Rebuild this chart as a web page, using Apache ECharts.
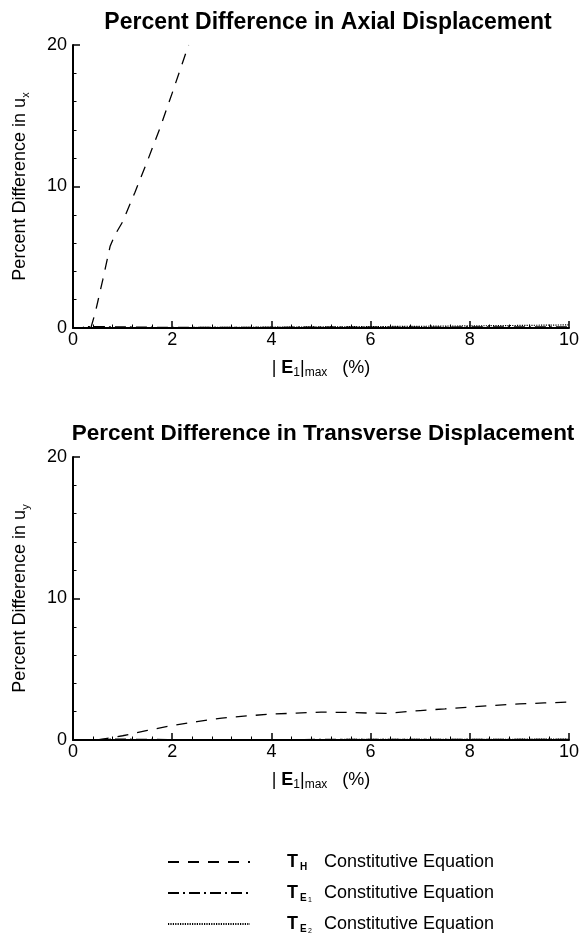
<!DOCTYPE html>
<html>
<head>
<meta charset="utf-8">
<script src="https://cdn.jsdelivr.net/npm/echarts@6/dist/echarts.min.js"></script>
<style>
html,body{margin:0;padding:0;background:#fff;}
#chart{width:582px;height:935px;}
</style>
</head>
<body>
<div id="chart"></div>
<script>
// ---- Data ----
const xTicks = [0, 2, 4, 6, 8, 10];
const yTicks = [0, 10, 20];

// Top panel: axial displacement
const axialTH_x = [0.36, 0.45, 0.6, 0.75, 0.85, 1.0, 1.25, 1.5, 1.75, 2.0, 2.33];
const axialTH_y = [0, 1.1, 3.4, 5.8, 6.6, 7.5, 9.6, 11.8, 14.1, 16.6, 20.0];
const axialTE1_x = [0, 0.2, 0.3, 2, 4, 6, 8, 10];
const axialTE1_y = [0, 0.05, 0.1, 0.04, 0.05, 0.06, 0.07, 0.08];
const axialTE2_x = [0, 2, 4, 5, 6, 7, 8, 9, 10];
const axialTE2_y = [0, 0.03, 0.06, 0.08, 0.1, 0.12, 0.15, 0.18, 0.22];

// Bottom panel: transverse displacement
const transTH_x = [0.5, 1.0, 1.5, 2.0, 2.5, 3.0, 3.5, 4.0, 4.5, 5.0, 5.5, 6.0, 6.3, 7.0, 7.5, 8.0, 8.5, 9.0, 9.5, 10.0];
const transTH_y = [0, 0.3, 0.68, 1.02, 1.3, 1.55, 1.7, 1.83, 1.9, 1.97, 1.95, 1.9, 1.88, 2.08, 2.2, 2.33, 2.45, 2.55, 2.62, 2.68];
const transTE1_x = [0, 0.5, 0.8, 2, 4, 6, 8, 10];
const transTE1_y = [0, 0.02, 0.06, 0.03, 0.03, 0.04, 0.04, 0.05];
const transTE2_x = [0, 2, 4, 6, 8, 10];
const transTE2_y = [0, 0.02, 0.03, 0.04, 0.05, 0.06];

const seriesNames = ['TH', 'TE1', 'TE2'];

function pairs(xs, ys) { return xs.map((x, i) => [x, ys[i]]); }

// ---- Styles ----
const FONT = 'Liberation Sans';
const dashTypes = {
  TH: [11, 9],
  TE1: [11, 4, 2, 4],
  TE2: [1.2, 1.2]
};
const widths = { TH: 1.3, TE1: 1.3, TE2: 1.2 };

function xAxis(gridIndex) {
  return {
    type: 'value', gridIndex, min: 0, max: 10, interval: 2,
    axisLine: { lineStyle: { color: '#000', width: 2 } },
    axisTick: { inside: true, length: 7, lineStyle: { color: '#000', width: 1.5 } },
    minorTick: { show: true, splitNumber: 5, length: 3.5, lineStyle: { color: '#000', width: 1 } },
    splitLine: { show: false },
    axisLabel: { color: '#000', fontFamily: FONT, fontSize: 18, margin: 3,
      formatter: v => xTicks.includes(v) ? String(v) : '' },
    name: '{n|| }{b|E}{s|1}{n||}{s|max}{n|   (%)}',
    nameLocation: 'middle', nameGap: 30,
    nameTextStyle: {
      color: '#000', fontFamily: FONT, fontSize: 18,
      rich: {
        n: { fontFamily: FONT, fontSize: 18, color: '#000' },
        b: { fontFamily: FONT, fontSize: 18, fontWeight: 'bold', color: '#000' },
        s: { fontFamily: FONT, fontSize: 12, color: '#000', padding: [9, 0, 0, 0] }
      }
    }
  };
}

function yAxis(gridIndex, sub) {
  return {
    type: 'value', gridIndex, min: 0, max: 20, interval: 10,
    axisLine: { show: true, lineStyle: { color: '#000', width: 2 } },
    axisTick: { show: true, inside: true, length: 7, lineStyle: { color: '#000', width: 1.5 } },
    minorTick: { show: true, splitNumber: 5, length: 3.5, lineStyle: { color: '#000', width: 1 } },
    splitLine: { show: false },
    axisLabel: { color: '#000', fontFamily: FONT, fontSize: 18, margin: 6,
      formatter: v => yTicks.includes(v) ? String(v) : '' },
    name: '{n|Percent Difference in u}{s|' + sub + '}',
    nameLocation: 'middle', nameGap: 42, nameRotate: 90,
    nameTextStyle: {
      color: '#000', fontFamily: FONT, fontSize: 18,
      rich: {
        n: { fontFamily: FONT, fontSize: 18, color: '#000' },
        s: { fontFamily: FONT, fontSize: 11, color: '#000', padding: [10, 0, 0, 0] }
      }
    }
  };
}

const panels = [
  { TH: pairs(axialTH_x, axialTH_y), TE1: pairs(axialTE1_x, axialTE1_y), TE2: pairs(axialTE2_x, axialTE2_y) },
  { TH: pairs(transTH_x, transTH_y), TE1: pairs(transTE1_x, transTE1_y), TE2: pairs(transTE2_x, transTE2_y) }
];

const series = [];
panels.forEach((p, gi) => {
  seriesNames.forEach(name => {
    series.push({
      name, type: 'line', xAxisIndex: gi, yAxisIndex: gi,
      data: p[name], showSymbol: false, symbol: 'none', smooth: false,
      clip: true, animation: false,
      lineStyle: { color: '#000', width: widths[name], type: dashTypes[name] },
      itemStyle: { color: '#000' }
    });
  });
});

const legendRich = {
  T: { fontFamily: FONT, fontSize: 18, fontWeight: 'bold', color: '#000', width: 12, padding: [0, 0, 0, 32] },
  sH: { fontFamily: FONT, fontSize: 10, fontWeight: 'bold', color: '#000', width: 24, padding: [10, 0, 0, 1] },
  sE: { fontFamily: FONT, fontSize: 10, fontWeight: 'bold', color: '#000', width: 8, padding: [10, 0, 0, 1] },
  ss: { fontFamily: FONT, fontSize: 7, color: '#000', width: 16, padding: [15, 0, 0, 0] },
  n: { fontFamily: FONT, fontSize: 18, color: '#000' }
};
const legendLabels = {
  TH: '{T|T}{sH|H}{n|Constitutive Equation}',
  TE1: '{T|T}{sE|E}{ss|1}{n|Constitutive Equation}',
  TE2: '{T|T}{sE|E}{ss|2}{n|Constitutive Equation}'
};
const legendTops = [853, 884, 915];

const legends = seriesNames.map((name, i) => ({
  orient: 'vertical', left: 167, top: legendTops[i], padding: 0,
  itemWidth: 82, itemHeight: 14,
  data: [name],
  formatter: n => legendLabels[n],
  textStyle: { fontFamily: FONT, fontSize: 18, color: '#000', rich: legendRich },
  itemStyle: { color: 'rgba(0,0,0,0)', borderColor: 'rgba(0,0,0,0)', borderWidth: 0, opacity: 0 },
  selectedMode: false
}));

const option = {
  backgroundColor: '#fff',
  animation: false,
  title: [
    { text: 'Percent Difference in Axial Displacement', left: 323, top: 6, textAlign: 'center',
      textStyle: { fontFamily: FONT, fontSize: 23, fontWeight: 'bold', color: '#000' } },
    { text: 'Percent Difference in Transverse Displacement', left: 318, top: 417, textAlign: 'center',
      textStyle: { fontFamily: FONT, fontSize: 22.5, fontWeight: 'bold', color: '#000' } }
  ],
  grid: [
    { left: 73, right: 12, top: 45, height: 283 },
    { left: 73, right: 12, top: 457, height: 283 }
  ],
  xAxis: [xAxis(0), xAxis(1)],
  yAxis: [yAxis(0, 'x'), yAxis(1, 'y')],
  legend: legends,
  series
};

const chart = echarts.init(document.getElementById('chart'), null, { renderer: 'canvas' });
chart.setOption(option);
</script>
</body>
</html>
